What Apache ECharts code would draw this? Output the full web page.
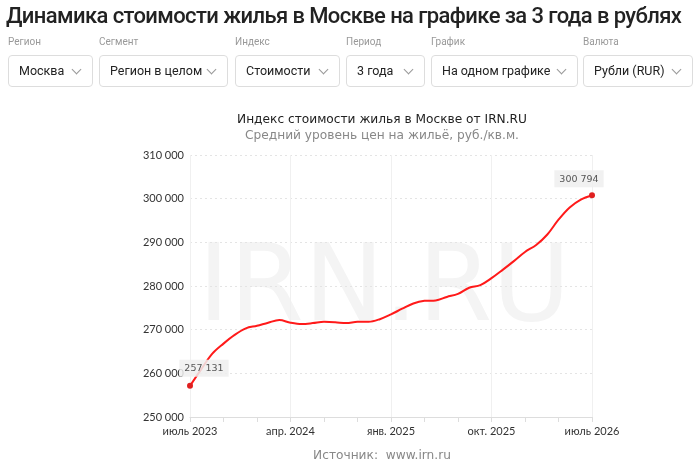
<!DOCTYPE html>
<html>
<head>
    <meta charset="utf-8">
    <title>Динамика стоимости жилья в Москве</title>
    <style>
        body { margin: 0; background: #fff; font-family: Roboto, sans-serif; }
        .head { position: absolute; left: 0; top: 0; width: 700px; height: 100px; }
        .h1 { position: absolute; left: 6px; top: 3px; font-size: 22px; font-weight: 500; color: #222; white-space: nowrap; letter-spacing: -0.6px; }
        .lbl { position: absolute; top: 36px; font-size: 10px; color: #999; }
        .sel { position: absolute; top: 55px; height: 32px; border: 1px solid #ddd; border-radius: 4px; box-sizing: border-box;
               font-size: 12.5px; color: #222; line-height: 30px; padding-left: 10px; }
        .sel:after { content: ''; position: absolute; right: 12px; top: 10px; width: 6px; height: 6px;
               border-right: 1px solid #999; border-bottom: 1px solid #999; transform: rotate(45deg); }
        #main { position: absolute; left: 0; top: 0; width: 700px; height: 467px; }
    </style>
</head>
<body>
    <div id="main"></div>
    <div class="head">
        <div class="h1">Динамика стоимости жилья в Москве на графике за 3 года в рублях</div>
        <div class="lbl" style="left:8px">Регион</div>
        <div class="lbl" style="left:99px">Сегмент</div>
        <div class="lbl" style="left:235px">Индекс</div>
        <div class="lbl" style="left:346px">Период</div>
        <div class="lbl" style="left:431px">График</div>
        <div class="lbl" style="left:583px">Валюта</div>
        <div class="sel" style="left:8px;width:85px">Москва</div>
        <div class="sel" style="left:99px;width:129px">Регион в целом</div>
        <div class="sel" style="left:235px;width:105px">Стоимости</div>
        <div class="sel" style="left:346px;width:79px">3 года</div>
        <div class="sel" style="left:431px;width:147px">На одном графике</div>
        <div class="sel" style="left:583px;width:110px">Рубли (RUR)</div>
    </div>
    <script type="text/javascript" src="https://cdn.jsdelivr.net/npm/echarts@6/dist/echarts.min.js"></script>
    <script type="text/javascript">
    // названия месяцев для подписей оси
    var monthNames = ['янв.', 'февр.', 'март', 'апр.', 'май', 'июнь', 'июль', 'авг.', 'сент.', 'окт.', 'нояб.', 'дек.'];
    var startYear = 2023, startMonth = 6; // июль 2023
    var monthCount = 37;

    // средняя цена, руб./кв.м., по месяцам (июль 2023 - июль 2026)
    var prices = [
        257131, 260900, 264500, 266800, 268800, 270300, 270900, 271600, 272200, 271600,
        271300, 271500, 271800, 271700, 271500, 271800, 271800, 272400, 273500, 274800,
        276000, 276600, 276700, 277500, 278200, 279600, 280200, 281800, 283700, 285700,
        287800, 289400, 291800, 295200, 298000, 299800, 300794
    ];
    var yMin = 250000, yMax = 310000, yStep = 10000;

    var categories = [];
    for (var i = 0; i < monthCount; i++) {
        var m = (startMonth + i) % 12;
        var y = startYear + Math.floor((startMonth + i) / 12);
        categories.push(monthNames[m] + ' ' + y);
    }

    function fmt(v) {
        return String(v).replace(/\B(?=(\d{3})+(?!\d))/g, ' ');
    }

    var endLabel = {
        show: true,
        formatter: function (p) { return fmt(p.value); },
        backgroundColor: 'rgba(238,238,238,0.85)',
        color: '#555',
        fontFamily: 'DejaVu Sans',
        fontSize: 9.5,
        padding: [4, 5, 3, 5]
    };
    var seriesData = prices.map(function (v, i) {
        if (i === 0) {
            return { value: v, symbol: 'circle', symbolSize: 6,
                label: Object.assign({}, endLabel, { position: 'top', offset: [14, -1] }) };
        }
        if (i === prices.length - 1) {
            return { value: v, symbol: 'circle', symbolSize: 6,
                label: Object.assign({}, endLabel, { position: 'top', offset: [-13, 0] }) };
        }
        return { value: v, symbol: 'none' };
    });

    var myChart = echarts.init(document.getElementById('main'));
    var option = {
        animation: false,
        title: [
            {
                text: 'Индекс стоимости жилья в Москве от IRN.RU',
                subtext: 'Средний уровень цен на жильё, руб./кв.м.',
                left: 377, top: 109, textAlign: 'center', itemGap: 4,
                textStyle: { fontFamily: 'DejaVu Sans', fontSize: 12.2, fontWeight: 'normal', color: '#222' },
                subtextStyle: { fontFamily: 'DejaVu Sans', fontSize: 12.2, color: '#888' }
            },
            {
                text: 'Источник:  www.irn.ru',
                left: 377, top: 445, textAlign: 'center',
                textStyle: { fontFamily: 'DejaVu Sans', fontSize: 12.2, fontWeight: 'normal', color: '#888' }
            }
        ],
        graphic: [{
            type: 'text', left: 198, top: 239, z: 0, silent: true,
            style: { text: 'IRN.RU', fontFamily: 'DejaVu Sans', fontSize: 107, fill: '#f4f4f4' }
        }],
        grid: { left: 190, right: 108, top: 155, bottom: 50 },
        xAxis: {
            type: 'category',
            data: categories,
            boundaryGap: false,
            axisLine: { lineStyle: { color: '#ddd' } },
            axisTick: { interval: 2, length: 5, lineStyle: { color: '#ddd' } },
            axisLabel: {
                interval: 8, color: '#333', fontFamily: 'Lato', fontSize: 11, margin: 9,
                showMaxLabel: true
            },
            splitLine: { show: true, interval: 8, lineStyle: { color: '#f0f0f0' } }
        },
        yAxis: {
            type: 'value',
            min: yMin, max: yMax, interval: yStep,
            axisLine: { show: false },
            axisTick: { show: false },
            axisLabel: { color: '#333', fontFamily: 'Lato', fontSize: 11, margin: 6, formatter: fmt },
            splitLine: { lineStyle: { color: '#e4e4e4', type: [2, 3] } }
        },
        series: [{
            type: 'line',
            data: seriesData,
            smooth: 0.35,
            z: 5,
            lineStyle: { color: '#ff1a1a', width: 2 },
            itemStyle: { color: '#e02020' }
        }]
    };
    myChart.setOption(option);
    </script>
</body>
</html>
